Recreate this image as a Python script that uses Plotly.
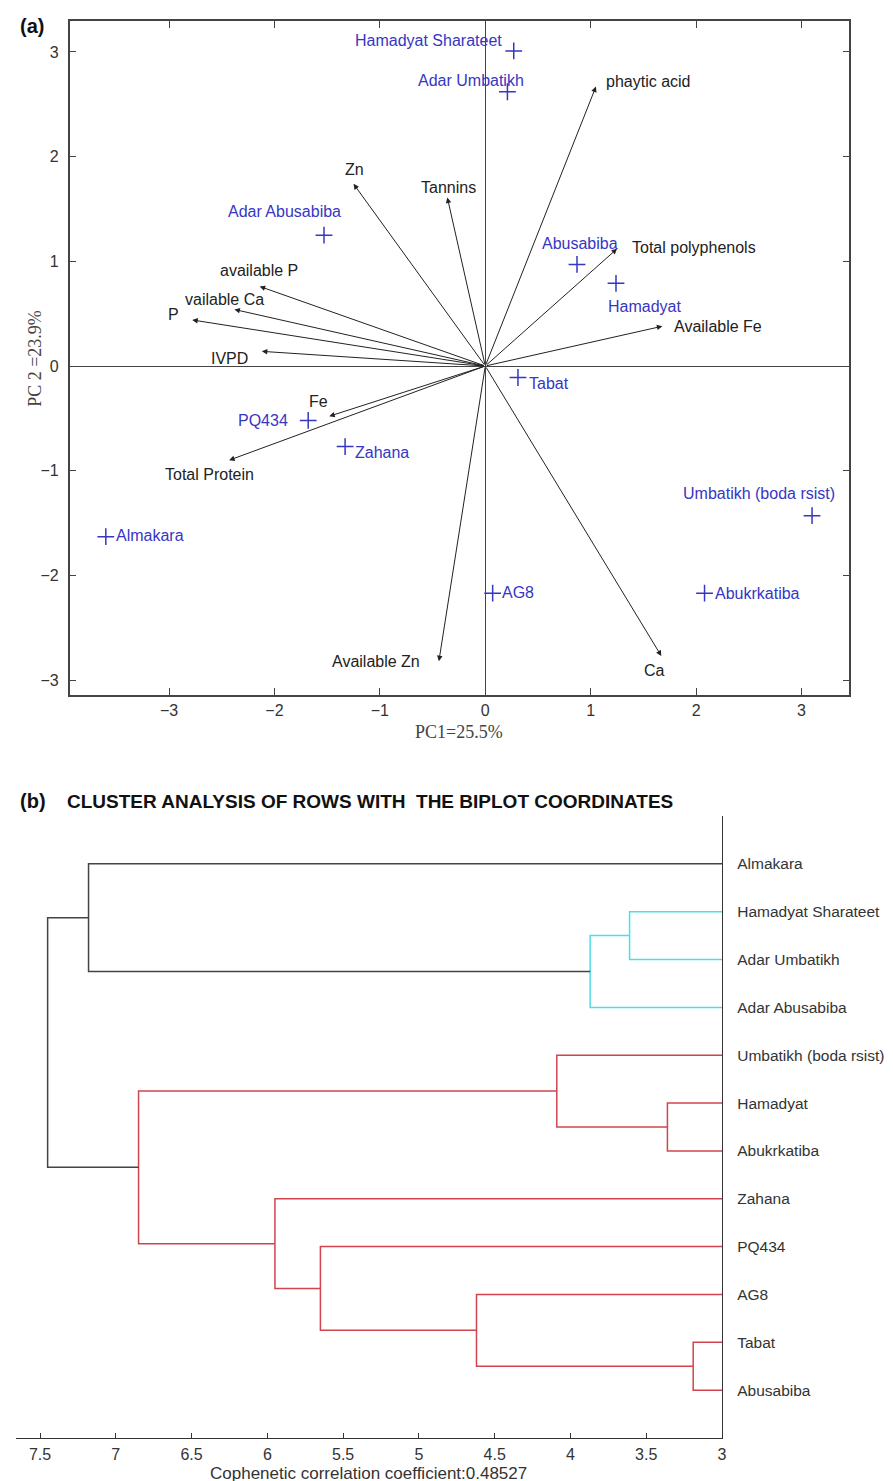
import plotly.graph_objects as go

W, H = 893, 1481

# ---------------- Panel (a) data: PCA biplot ----------------
obs_names = ["Hamadyat Sharateet", "Adar Umbatikh", "Adar Abusabiba", "Abusabiba",
             "Hamadyat", "Tabat", "PQ434", "Zahana", "Almakara", "AG8",
             "Umbatikh (boda rsist)", "Abukrkatiba"]
obs_pc1 = [0.27, 0.21, -1.53, 0.87, 1.24, 0.31, -1.68, -1.33, -3.60, 0.07, 3.10, 2.08]
obs_pc2 = [3.01, 2.62, 1.25, 0.97, 0.79, -0.11, -0.52, -0.77, -1.63, -2.17, -1.43, -2.17]

var_names = ["phaytic acid", "Zn", "Tannins", "Total polyphenols", "Available Fe",
             "available P", "vailable Ca", "P", "IVPD", "Fe", "Total Protein",
             "Available Zn", "Ca"]
var_pc1 = [1.05, -1.25, -0.36, 1.25, 1.68, -2.14, -2.38, -2.78, -2.12, -1.48, -2.43, -0.44, 1.67]
var_pc2 = [2.67, 1.74, 1.61, 1.12, 0.38, 0.76, 0.54, 0.44, 0.14, -0.48, -0.90, -2.82, -2.77]

a_ticks = [-3, -2, -1, 0, 1, 2, 3]
pc1_title = "PC1=25.5%"
pc2_title = "PC 2 =23.9%"

# ---------------- Panel (b) data: dendrogram ----------------
leaf_names = ["Almakara", "Hamadyat Sharateet", "Adar Umbatikh", "Adar Abusabiba",
              "Umbatikh (boda rsist)", "Hamadyat", "Abukrkatiba", "Zahana", "PQ434",
              "AG8", "Tabat", "Abusabiba"]
# linkage (leaves 1..12, new clusters 13..)
link_left = [11, 6, 2, 15, 5, 10, 9, 8, 17, 1, 22]
link_right = [12, 7, 3, 4, 14, 13, 18, 19, 20, 16, 21]
link_height = [3.19, 3.36, 3.61, 3.87, 4.09, 4.62, 5.65, 5.95, 6.85, 7.18, 7.45]
link_group = ["red", "red", "cyan", "cyan", "red", "red", "red", "red", "red", "black", "black"]
b_ticks = [3, 3.5, 4, 4.5, 5, 5.5, 6, 6.5, 7, 7.5]
b_title = "CLUSTER ANALYSIS OF ROWS WITH  THE BIPLOT COORDINATES"
b_xlabel = "Cophenetic correlation coefficient:0.48527"

# ---------------- styles ----------------
SANS = "Liberation Sans, Arial, Helvetica, sans-serif"
SERIF = "Liberation Serif, Times New Roman, serif"
BLUE = "#3636c4"
DARK = "#222222"
GREY = "#444444"
group_colors = {"red": "#d0454d", "cyan": "#4adfe6", "black": "#444444"}

obs_label_pos = {
    "Hamadyat Sharateet": ("right", -10, 10),
    "Adar Umbatikh": ("center", -36, 11),
    "Adar Abusabiba": ("center", -40, 24),
    "Abusabiba": ("center", 3, 21),
    "Hamadyat": ("center", 29, -23),
    "Tabat": ("left", 9, -6),
    "PQ434": ("right", -18, 0),
    "Zahana": ("left", 8, -6),
    "Almakara": ("left", 8, 1),
    "AG8": ("left", 7, 1),
    "Umbatikh (boda rsist)": ("center", -53, 22),
    "Abukrkatiba": ("left", 8, 0),
}
var_label_pos = {
    "phaytic acid": ("left", 8, 5),
    "Zn": ("center", 1, 14),
    "Tannins": ("center", 1, 10),
    "Total polyphenols": ("left", 13, 1),
    "Available Fe": ("left", 10, 0),
    "available P": ("center", -1, 16),
    "vailable Ca": ("center", -10, 10),
    "P": ("right", -11, 5),
    "IVPD": ("right", -12, -7),
    "Fe": ("center", -11, 15),
    "Total Protein": ("center", -20, -14),
    "Available Zn": ("right", -17, 0),
    "Ca": ("center", -7, -15),
}


def py(px):
    return 1 - px / H


fig = go.Figure()

# ---- Panel (a): observations ----
fig.add_trace(go.Scatter(
    x=obs_pc1, y=obs_pc2, mode="markers", xaxis="x", yaxis="y",
    marker=dict(symbol="cross-thin", size=12, line=dict(width=1.5, color=BLUE), color=BLUE),
    hovertext=obs_names, hoverinfo="text", showlegend=False))

annotations = []
# variable arrows
for name, vx, vy in zip(var_names, var_pc1, var_pc2):
    annotations.append(dict(
        x=vx, y=vy, ax=0, ay=0, xref="x", yref="y", axref="x", ayref="y",
        text="", showarrow=True, arrowhead=2, arrowsize=1.1, arrowwidth=1,
        arrowcolor=DARK, standoff=0, startstandoff=0))
    xa, dx, dy = var_label_pos[name]
    annotations.append(dict(
        x=vx, y=vy, xref="x", yref="y", text=name, showarrow=False,
        xanchor=xa, yanchor="middle", xshift=dx, yshift=dy,
        font=dict(family=SANS, size=16, color=DARK)))
# observation labels
for name, ox, oy in zip(obs_names, obs_pc1, obs_pc2):
    xa, dx, dy = obs_label_pos[name]
    annotations.append(dict(
        x=ox, y=oy, xref="x", yref="y", text=name, showarrow=False,
        xanchor=xa, yanchor="middle", xshift=dx, yshift=dy,
        font=dict(family=SANS, size=16, color=BLUE)))

# axis titles and panel labels
annotations += [
    dict(x=454 / W, y=py(724), xref="paper", yref="paper", text=pc1_title, showarrow=False,
         xanchor="center", yanchor="middle", font=dict(family=SERIF, size=18, color=GREY)),
    dict(x=27 / W, y=py(350), xref="paper", yref="paper", text=pc2_title, showarrow=False,
         textangle=-90, xanchor="center", yanchor="middle",
         font=dict(family=SERIF, size=18, color=GREY)),
    dict(x=10 / W, y=py(18), xref="paper", yref="paper", text="<b>(a)</b>", showarrow=False,
         xanchor="left", yanchor="middle", font=dict(family=SANS, size=20, color="#111")),
    dict(x=10 / W, y=py(793), xref="paper", yref="paper", text="<b>(b)</b>", showarrow=False,
         xanchor="left", yanchor="middle", font=dict(family=SANS, size=20, color="#111")),
    dict(x=57 / W, y=py(793), xref="paper", yref="paper", text="<b>" + b_title + "</b>",
         showarrow=False, xanchor="left", yanchor="middle",
         font=dict(family=SANS, size=19, color="#111")),
    dict(x=363 / W, y=py(1465), xref="paper", yref="paper", text=b_xlabel, showarrow=False,
         xanchor="center", yanchor="middle", font=dict(family=SANS, size=17, color="#333")),
]

# ---- Panel (b): dendrogram ----
n_leaf = len(leaf_names)
pos = {i + 1: float(i + 1) for i in range(n_leaf)}
hgt = {i + 1: 0.0 for i in range(n_leaf)}
seg = {g: ([], []) for g in group_colors}
for k, (l, r, h, g) in enumerate(zip(link_left, link_right, link_height, link_group)):
    node = n_leaf + 1 + k
    xs, ys = seg[g]
    xs += [hgt[l], h, h, hgt[r], None]
    ys += [pos[l], pos[l], pos[r], pos[r], None]
    pos[node] = (pos[l] + pos[r]) / 2
    hgt[node] = h
for g, (xs, ys) in seg.items():
    fig.add_trace(go.Scatter(
        x=xs, y=ys, mode="lines", xaxis="x2", yaxis="y2",
        line=dict(color=group_colors[g], width=1.5), hoverinfo="skip", showlegend=False))

fig.update_layout(
    width=W, height=H, margin=dict(l=0, r=0, t=0, b=0),
    paper_bgcolor="white", plot_bgcolor="white", showlegend=False,
    annotations=annotations,
    xaxis=dict(domain=[62 / W, 846 / W], range=[-3.943, 3.453], anchor="y",
               tickvals=a_ticks, ticks="inside", ticklen=7, tickcolor=GREY, tickwidth=1,
               showline=True, linecolor=GREY, linewidth=1.5, mirror="allticks",
               showgrid=False, zeroline=True, zerolinecolor=GREY, zerolinewidth=1.3,
               tickfont=dict(family=SANS, size=16, color="#333"), ticklabelstandoff=0),
    yaxis=dict(domain=[py(687), py(13)], range=[-3.143, 3.296], anchor="x",
               tickvals=a_ticks, ticks="inside", ticklen=7, tickcolor=GREY, tickwidth=1,
               showline=True, linecolor=GREY, linewidth=1.5, mirror="allticks",
               showgrid=False, zeroline=True, zerolinecolor=GREY, zerolinewidth=1.3,
               tickfont=dict(family=SANS, size=16, color="#333"), ticklabelstandoff=6),
    xaxis2=dict(domain=[8 / W, 718 / W], range=[7.659, 3.0], anchor="y2",
                tickvals=b_ticks, ticks="inside", ticklen=5, tickcolor="#333", tickwidth=1,
                showline=True, linecolor="#333", linewidth=1.3, showgrid=False, zeroline=False,
                tickfont=dict(family=SANS, size=16, color="#333"), ticklabelstandoff=2),
    yaxis2=dict(domain=[py(1430), py(808)], range=[13, 0], anchor="x2", side="right",
                tickvals=list(range(1, n_leaf + 1)), ticktext=leaf_names, ticks="",
                showline=True, linecolor="#333", linewidth=1.3, showgrid=False, zeroline=False,
                tickfont=dict(family=SANS, size=15.5, color="#333"), ticklabelstandoff=11),
)

fig.write_html("out.html")
